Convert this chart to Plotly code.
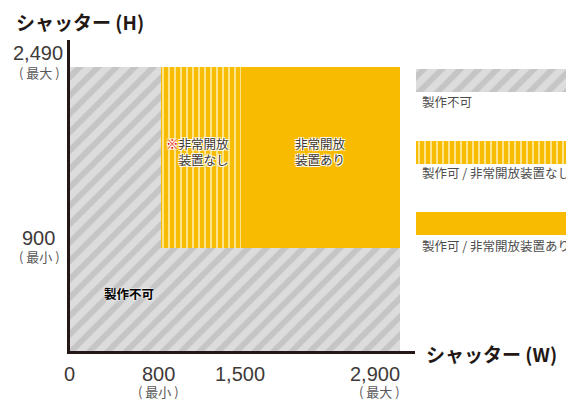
import plotly.graph_objects as go

# ---------------- data ----------------
W_TICKS = [0, 800, 1500, 2900]
W_TICK_TEXT = ["0", "800", "1,500", "2,900"]
W_SUB = ["", "( 最小 )", "", "( 最大 )"]
H_TICKS = [900, 2490]
H_TICK_TEXT = ["900", "2,490"]
H_SUB = ["( 最小 )", "( 最大 )"]

REGION_NAMES = ["製作不可", "製作可 / 非常開放装置なし", "製作可 / 非常開放装置あり"]
REGION_X0 = [0, 800, 1500]
REGION_X1 = [2900, 1500, 2900]
REGION_Y0 = [0, 900, 900]
REGION_Y1 = [2490, 2490, 2490]

X_TITLE = "シャッター (W)"
Y_TITLE = "シャッター (H)"

# ---------------- styles ----------------
W, H = 566, 401
ML, MR, MT, MB = 70, 0, 40, 50
PW, PH = W - ML - MR, H - MT - MB
AX_COLOR = "#231815"
GRAY_BG, GRAY_FG = "#dcdcdc", "#c5c5c5"
ORANGE, LIGHT = "#f8bb00", "#fde38a"
JP = "Noto Sans CJK JP"
NUM = "Liberation Sans, Arial, sans-serif"

def px_x(p):
    return (p - ML) / PW

def px_y(p):
    return (H - MB - p) / PH

styles = [
    dict(color=GRAY_BG, pattern=dict(shape="/", bgcolor=GRAY_BG, fgcolor=GRAY_FG,
                                     size=13, solidity=0.45, fillmode="replace")),
    dict(color=ORANGE, pattern=dict(shape="|", bgcolor=ORANGE, fgcolor=LIGHT,
                                    size=6, solidity=0.35, fillmode="replace")),
    dict(color=ORANGE),
]

fig = go.Figure()
for name, x0, x1, y0, y1, st in zip(REGION_NAMES, REGION_X0, REGION_X1,
                                    REGION_Y0, REGION_Y1, styles):
    fig.add_trace(go.Bar(x=[(x0 + x1) / 2], width=[x1 - x0], base=[y0], y=[y1 - y0],
                         marker=dict(line=dict(width=0), **st), name=name,
                         showlegend=False, hoverinfo="skip"))

# legend swatches (separate hidden axis, pixel-like units)
sw_y = [29, 101, 172]
for name, y0, st in zip(REGION_NAMES, sw_y, styles):
    fig.add_trace(go.Bar(x=[75], width=[150], base=[y0], y=[23],
                         marker=dict(line=dict(width=0), **st), xaxis="x2", yaxis="y2",
                         showlegend=False, hoverinfo="skip"))

ann = []
# x tick labels
for v, t, s in zip(W_TICKS, W_TICK_TEXT, W_SUB):
    anchor = "right" if v == W_TICKS[-1] else "center"
    xs = 2 if anchor == "right" else (-3 if v == 800 else -1)
    ann.append(dict(x=v, xref="x", y=0, yref="paper", text=t, showarrow=False,
                    xanchor=anchor, yanchor="middle", yshift=-23, xshift=xs,
                    font=dict(family=NUM, size=20, color="#3e3a39")))
    if s:
        ann.append(dict(x=v, xref="x", y=0, yref="paper", text=s, showarrow=False,
                        xanchor=anchor, yanchor="middle", yshift=-40, xshift=xs,
                        font=dict(family=JP, size=13, color="#595757")))
# y tick labels
yshift_main = {900: 10, 2490: 14}
yshift_sub = {900: -8.5, 2490: -5}
for v, t, s in zip(H_TICKS, H_TICK_TEXT, H_SUB):
    ann.append(dict(x=0, xref="paper", y=v, yref="y", text=t, showarrow=False,
                    xanchor="center", yanchor="middle", xshift=-32, yshift=yshift_main[v],
                    font=dict(family=NUM, size=20, color="#3e3a39")))
    ann.append(dict(x=0, xref="paper", y=v, yref="y", text=s, showarrow=False,
                    xanchor="center", yanchor="middle", xshift=-31, yshift=yshift_sub[v],
                    font=dict(family=JP, size=13, color="#595757")))

# axis titles
ann.append(dict(x=px_x(14), y=px_y(22), xref="paper", yref="paper", text=Y_TITLE,
                showarrow=False, xanchor="left", yanchor="middle",
                font=dict(family=JP, size=19, color="#231815", weight=700)))
ann.append(dict(x=px_x(424), y=px_y(353), xref="paper", yref="paper", text=X_TITLE,
                showarrow=False, xanchor="left", yanchor="middle",
                font=dict(family=JP, size=19, color="#231815", weight=700)))

halo = "-1px -1px 0 #fff, 1px -1px 0 #fff, -1px 1px 0 #fff, 1px 1px 0 #fff"
ann.append(dict(x=(REGION_X0[1] + REGION_X1[1]) / 2, xref="x", y=px_y(151), yref="paper",
                text="<span style='color:#e60012'>※</span>非常開放<br>装置なし",
                showarrow=False, align="right", xanchor="center", yanchor="middle",
                xshift=-3,
                font=dict(family=JP, size=12.5, color="#3e3a39", shadow=halo)))
ann.append(dict(x=(REGION_X0[2] + REGION_X1[2]) / 2, xref="x", y=px_y(151), yref="paper",
                text="非常開放<br>装置あり", showarrow=False, align="center",
                xanchor="center", yanchor="middle",
                font=dict(family=JP, size=12.5, color="#3e3a39", shadow=halo)))
ann.append(dict(x=px_x(129), y=px_y(293), xref="paper", yref="paper", text=REGION_NAMES[0],
                showarrow=False, xanchor="center", yanchor="middle",
                font=dict(family=JP, size=12.5, color="#000000", weight=700,
                          shadow="0 0 2px #fff, 0 0 2px #fff")))

# legend labels
for name, py in zip(REGION_NAMES, [101, 172, 245]):
    ann.append(dict(x=px_x(420), y=px_y(py), xref="paper", yref="paper", text=name,
                    showarrow=False, xanchor="left", yanchor="middle",
                    font=dict(family=JP, size=12.5, color="#4d4d4d")))

fig.update_layout(
    width=W, height=H, margin=dict(l=ML, r=MR, t=MT, b=MB),
    paper_bgcolor="white", plot_bgcolor="white",
    barmode="overlay", bargap=0,
    xaxis=dict(domain=[0, 345 / PW], range=[0, 2900 * 345 / 330], showgrid=False,
               zeroline=False, showticklabels=False, ticks="", showline=True,
               linecolor=AX_COLOR, linewidth=2.5, fixedrange=True),
    yaxis=dict(domain=[0, 1], range=[0, 2490 * PH / (351 - 67)], showgrid=False,
               zeroline=False, showticklabels=False, ticks="", showline=True,
               linecolor=AX_COLOR, linewidth=2.5, fixedrange=True),
    xaxis2=dict(domain=[(416 - ML) / PW, 1], range=[0, 150], visible=False,
                anchor="y2", fixedrange=True),
    yaxis2=dict(domain=[0, 1], range=[PH, 0], visible=False, anchor="x2",
                fixedrange=True),
    annotations=ann,
    font=dict(family=JP),
)

fig.write_html("out.html", config={"displayModeBar": False},
               post_script="document.body.style.margin='0';document.body.style.padding='0';document.body.style.overflow='hidden';")
